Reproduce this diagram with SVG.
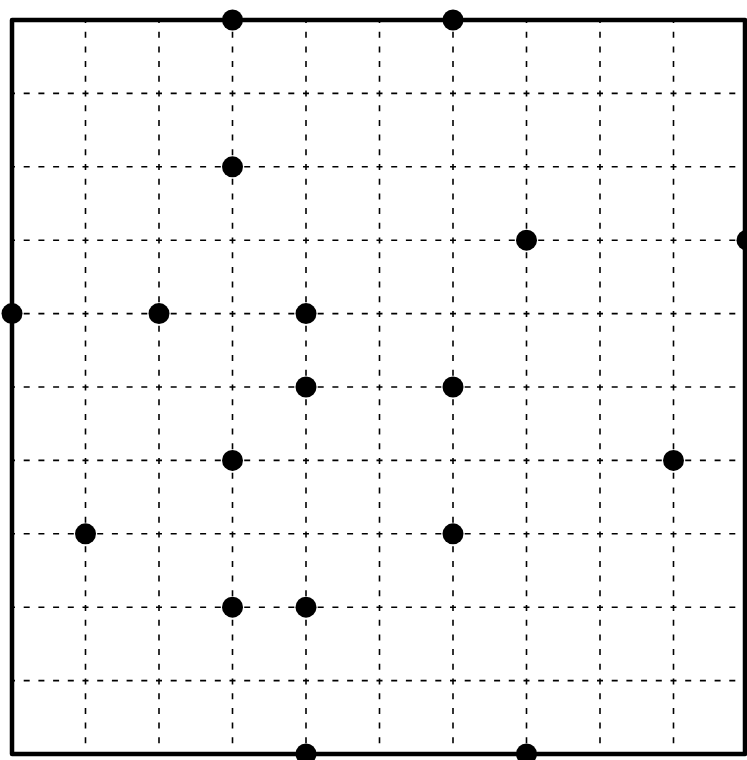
<svg xmlns="http://www.w3.org/2000/svg" width="747" height="760" viewBox="0 0 747 760">
<style>
.g{stroke:#000;stroke-width:1.6;stroke-dasharray:6 8.7;stroke-dashoffset:3;fill:none}
.f{stroke:#000;stroke-width:4.5;fill:none;stroke-linejoin:round}
.d{fill:#000}
</style>
<rect width="747" height="760" fill="#fff"/>
<g id="grid" class="g">
<line x1="85.5" y1="20" x2="85.5" y2="754"/>
<line x1="159" y1="20" x2="159" y2="754"/>
<line x1="232.5" y1="20" x2="232.5" y2="754"/>
<line x1="306" y1="20" x2="306" y2="754"/>
<line x1="379.5" y1="20" x2="379.5" y2="754"/>
<line x1="453" y1="20" x2="453" y2="754"/>
<line x1="526.5" y1="20" x2="526.5" y2="754"/>
<line x1="600" y1="20" x2="600" y2="754"/>
<line x1="673.5" y1="20" x2="673.5" y2="754"/>
<line x1="12" y1="93.4" x2="747" y2="93.4"/>
<line x1="12" y1="166.8" x2="747" y2="166.8"/>
<line x1="12" y1="240.2" x2="747" y2="240.2"/>
<line x1="12" y1="313.6" x2="747" y2="313.6"/>
<line x1="12" y1="387" x2="747" y2="387"/>
<line x1="12" y1="460.4" x2="747" y2="460.4"/>
<line x1="12" y1="533.8" x2="747" y2="533.8"/>
<line x1="12" y1="607.2" x2="747" y2="607.2"/>
<line x1="12" y1="680.6" x2="747" y2="680.6"/>
</g>
<g id="frame">
<rect class="f" x="12" y="20" width="733" height="734"/>
</g>
<g id="connectors"></g>
<g id="p1"><circle class="d" cx="232.5" cy="20" r="10.5"/></g>
<g id="p2"><circle class="d" cx="453" cy="20" r="10.5"/></g>
<g id="p3"><circle class="d" cx="232.5" cy="166.8" r="10.5"/></g>
<g id="p4"><circle class="d" cx="526.5" cy="240.2" r="10.5"/></g>
<g id="p5"><circle class="d" cx="747" cy="240.2" r="10.5"/></g>
<g id="p6"><circle class="d" cx="12" cy="313.6" r="10.5"/></g>
<g id="p7"><circle class="d" cx="159" cy="313.6" r="10.5"/></g>
<g id="p8"><circle class="d" cx="306" cy="313.6" r="10.5"/></g>
<g id="p9"><circle class="d" cx="306" cy="387" r="10.5"/></g>
<g id="p10"><circle class="d" cx="453" cy="387" r="10.5"/></g>
<g id="p11"><circle class="d" cx="232.5" cy="460.4" r="10.5"/></g>
<g id="p12"><circle class="d" cx="673.5" cy="460.4" r="10.5"/></g>
<g id="p13"><circle class="d" cx="85.5" cy="533.8" r="10.5"/></g>
<g id="p14"><circle class="d" cx="453" cy="533.8" r="10.5"/></g>
<g id="p15"><circle class="d" cx="232.5" cy="607.2" r="10.5"/></g>
<g id="p16"><circle class="d" cx="306" cy="607.2" r="10.5"/></g>
<g id="p17"><circle class="d" cx="306" cy="754" r="10.5"/></g>
<g id="p18"><circle class="d" cx="526.5" cy="754" r="10.5"/></g>
</svg>
